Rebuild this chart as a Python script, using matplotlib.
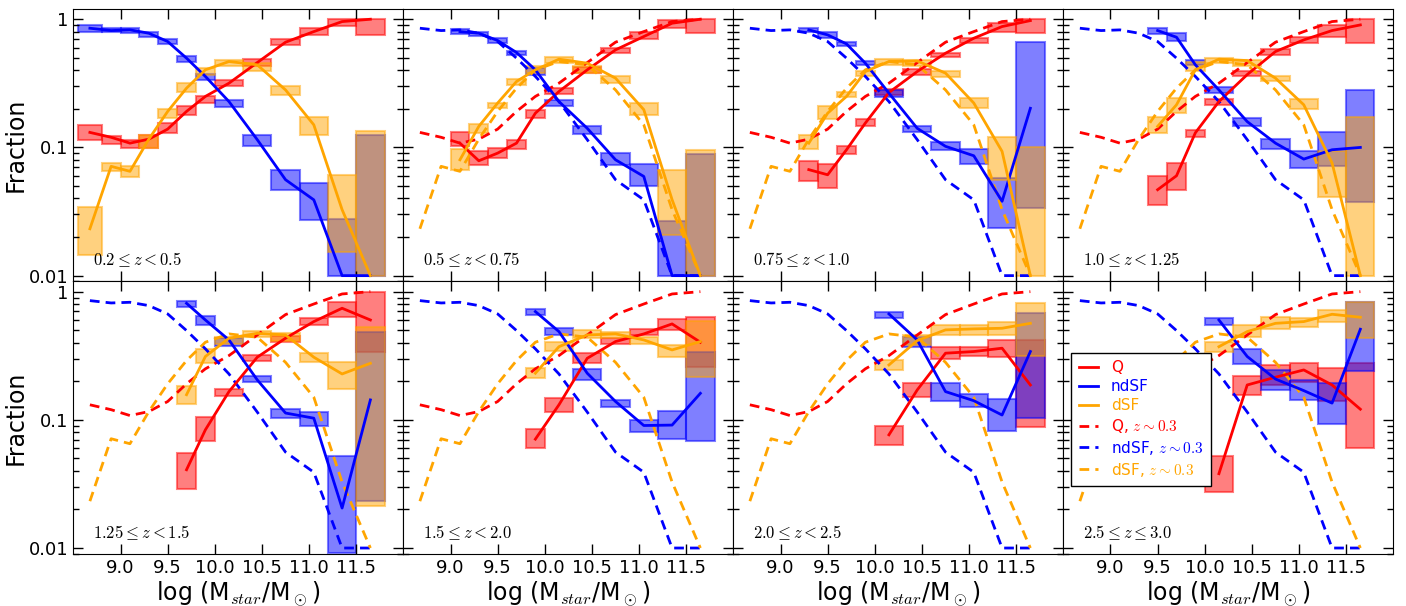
import numpy as np
import matplotlib
matplotlib.use('Agg')
import matplotlib.pyplot as plt
from matplotlib.ticker import FixedLocator, FixedFormatter, LogLocator, NullFormatter

plt.rcParams['mathtext.fontset'] = 'cm'
plt.rcParams['font.family'] = 'DejaVu Sans'

nan = np.nan

# mass bins (log M*/Msun)
edges = [8.55, 8.8, 9.0, 9.2, 9.4, 9.6, 9.8, 10.0, 10.3, 10.6, 10.9, 11.2, 11.5, 11.8]

z_labels = [r'$0.2 \leq z < 0.5$', r'$0.5 \leq z < 0.75$', r'$0.75 \leq z < 1.0$',
            r'$1.0 \leq z < 1.25$', r'$1.25 \leq z < 1.5$', r'$1.5 \leq z < 2.0$',
            r'$2.0 \leq z < 2.5$', r'$2.5 \leq z \leq 3.0$']

# quiescent fraction: median, lower, upper (one list per redshift bin)
q_med = [
    [0.131, 0.120, 0.108, 0.116, 0.139, 0.191, 0.250, 0.317, 0.459, 0.662, 0.801, 0.959, 1.0],
    [nan, nan, 0.108, 0.0787, 0.0903, 0.108, 0.185, 0.273, 0.403, 0.577, 0.733, 0.931, 1.0],
    [nan] * 3 + [0.0671, 0.0612, 0.0959, 0.155, 0.268, 0.391, 0.543, 0.711, 0.877, 0.976],
    [nan] * 4 + [0.0468, 0.0601, 0.130, 0.228, 0.370, 0.560, 0.690, 0.816, 0.903],
    [nan] * 5 + [0.0408, 0.0836, 0.166, 0.308, 0.433, 0.584, 0.742, 0.601],
    [nan] * 6 + [0.0707, 0.131, 0.302, 0.408, 0.468, 0.560, 0.403],
    [nan] * 7 + [0.0764, 0.171, 0.331, 0.341, 0.362, 0.187],
    [nan] * 7 + [0.0380, 0.187, 0.215, 0.245, 0.187, 0.121],
]
q_lo = [
    [0.115, 0.107, 0.099, 0.099, 0.130, 0.180, 0.222, 0.299, 0.433, 0.631, 0.755, 0.887, 0.755],
    [nan, nan, 0.102, 0.0733, 0.0826, 0.0971, 0.169, 0.262, 0.384, 0.550, 0.699, 0.851, 0.787],
    [nan] * 3 + [0.0543, 0.0482, 0.0893, 0.148, 0.257, 0.369, 0.506, 0.650, 0.801, 0.778],
    [nan] * 4 + [0.0357, 0.0468, 0.120, 0.215, 0.362, 0.527, 0.650, 0.733, 0.650],
    [nan] * 5 + [0.029, 0.0678, 0.154, 0.290, 0.408, 0.550, 0.639, 0.341],
    [nan] * 6 + [0.0601, 0.116, 0.276, 0.391, 0.459, 0.503, 0.260],
    [nan] * 7 + [0.0639, 0.152, 0.297, 0.315, 0.308, 0.0877],
    [nan] * 7 + [0.0272, 0.157, 0.187, 0.199, 0.139, 0.0601],
]
q_hi = [
    [0.150, 0.123, 0.115, 0.126, 0.155, 0.211, 0.254, 0.337, 0.488, 0.699, 0.851, 1.0, 1.0],
    [nan, nan, 0.133, 0.0931, 0.099, 0.115, 0.197, 0.290, 0.423, 0.601, 0.801, 0.988, 1.0],
    [nan] * 3 + [0.0787, 0.0742, 0.102, 0.167, 0.285, 0.408, 0.550, 0.720, 0.942, 1.0],
    [nan] * 4 + [0.0594, 0.0756, 0.137, 0.239, 0.398, 0.584, 0.733, 0.903, 1.0],
    [nan] * 5 + [0.055, 0.106, 0.173, 0.321, 0.451, 0.620, 0.836, 1.0],
    [nan] * 6 + [0.0846, 0.149, 0.331, 0.433, 0.509, 0.609, 0.639],
    [nan] * 7 + [0.0898, 0.195, 0.372, 0.369, 0.420, 0.420],
    [nan] * 7 + [0.0524, 0.220, 0.268, 0.280, 0.255, 0.276],
]

# non-disky star-forming fraction
nd_med = [
    [0.851, 0.816, 0.826, 0.778, 0.670, 0.497, 0.358, 0.228, 0.115, 0.056, 0.039, 0.010, 0.010],
    [nan, nan, 0.801, 0.778, 0.682, 0.550, 0.403, 0.228, 0.141, 0.0801, 0.0594, 0.010, 0.010],
    [nan] * 3 + [0.826, 0.755, 0.642, 0.454, 0.265, 0.141, 0.102, 0.0861, 0.0380, 0.202],
    [nan] * 4 + [0.816, 0.724, 0.441, 0.281, 0.159, 0.108, 0.0811, 0.0959, 0.100],
    [nan] * 5 + [0.811, 0.601, 0.420, 0.205, 0.113, 0.103, 0.0205, 0.143],
    [nan] * 6 + [0.699, 0.488, 0.231, 0.139, 0.0903, 0.0910, 0.161],
    [nan] * 7 + [0.670, 0.420, 0.166, 0.141, 0.109, 0.341],
    [nan] * 7 + [0.601, 0.312, 0.208, 0.169, 0.135, 0.509],
]
nd_lo = [
    [0.801, 0.801, 0.778, 0.733, 0.639, 0.468, 0.333, 0.206, 0.102, 0.0468, 0.0274, 0.0099, 0.0099],
    [nan, nan, 0.769, 0.742, 0.658, 0.527, 0.369, 0.211, 0.127, 0.0733, 0.0497, 0.0099, 0.0099],
    [nan] * 3 + [0.792, 0.711, 0.623, 0.441, 0.247, 0.132, 0.0947, 0.0746, 0.0235, 0.0337],
    [nan] * 4 + [0.769, 0.682, 0.441, 0.268, 0.148, 0.0976, 0.069, 0.072, 0.0375],
    [nan] * 5 + [0.755, 0.550, 0.378, 0.197, 0.103, 0.0889, 0.0091, 0.0232],
    [nan] * 6 + [0.658, 0.459, 0.205, 0.127, 0.0801, 0.0707, 0.0678],
    [nan] * 7 + [0.620, 0.369, 0.141, 0.125, 0.0811, 0.103],
    [nan] * 7 + [0.550, 0.273, 0.171, 0.143, 0.0931, 0.242],
]
nd_hi = [
    [0.903, 0.851, 0.851, 0.801, 0.699, 0.518, 0.375, 0.235, 0.126, 0.0671, 0.0528, 0.0278, 0.126],
    [nan, nan, 0.836, 0.801, 0.711, 0.570, 0.415, 0.235, 0.148, 0.0903, 0.0742, 0.0268, 0.0893],
    [nan] * 3 + [0.861, 0.792, 0.662, 0.476, 0.281, 0.148, 0.111, 0.0976, 0.0577, 0.670],
    [nan] * 4 + [0.851, 0.778, 0.482, 0.295, 0.169, 0.116, 0.0931, 0.133, 0.281],
    [nan] * 5 + [0.846, 0.650, 0.433, 0.220, 0.121, 0.116, 0.0518, 0.488],
    [nan] * 6 + [0.733, 0.524, 0.248, 0.143, 0.100, 0.118, 0.341],
    [nan] * 7 + [0.690, 0.446, 0.193, 0.159, 0.146, 0.678],
    [nan] * 7 + [0.627, 0.355, 0.245, 0.205, 0.193, 0.836],
]

# disky star-forming fraction
d_med = [
    [0.0232, 0.0712, 0.0651, 0.116, 0.191, 0.290, 0.403, 0.468, 0.441, 0.281, 0.150, 0.0327, 0.010],
    [nan, nan, 0.0801, 0.146, 0.222, 0.327, 0.403, 0.488, 0.454, 0.347, 0.197, 0.0391, 0.010],
    [nan] * 3 + [0.108, 0.185, 0.250, 0.391, 0.468, 0.473, 0.380, 0.222, 0.0931, 0.010],
    [nan] * 4 + [0.146, 0.215, 0.403, 0.488, 0.476, 0.347, 0.215, 0.0756, 0.010],
    [nan] * 5 + [0.157, 0.312, 0.433, 0.473, 0.459, 0.308, 0.228, 0.276],
    [nan] * 6 + [0.231, 0.372, 0.459, 0.468, 0.420, 0.351, 0.408],
    [nan] * 7 + [0.268, 0.415, 0.503, 0.512, 0.518, 0.566],
    [nan] * 7 + [0.372, 0.488, 0.566, 0.584, 0.666, 0.631],
]
d_lo = [
    [0.0146, 0.0651, 0.0584, 0.099, 0.169, 0.273, 0.369, 0.428, 0.398, 0.257, 0.126, 0.0153, 0.0099],
    [nan, nan, 0.0671, 0.130, 0.202, 0.308, 0.384, 0.454, 0.384, 0.321, 0.180, 0.0209, 0.0099],
    [nan] * 3 + [0.0971, 0.166, 0.247, 0.362, 0.441, 0.433, 0.353, 0.202, 0.056, 0.0099],
    [nan] * 4 + [0.130, 0.187, 0.396, 0.454, 0.435, 0.327, 0.199, 0.0408, 0.0099],
    [nan] * 5 + [0.133, 0.280, 0.391, 0.446, 0.415, 0.285, 0.173, 0.0211],
    [nan] * 6 + [0.211, 0.347, 0.433, 0.433, 0.391, 0.308, 0.216],
    [nan] * 7 + [0.244, 0.384, 0.459, 0.459, 0.459, 0.315],
    [nan] * 7 + [0.341, 0.446, 0.509, 0.534, 0.584, 0.433],
]
d_hi = [
    [0.0343, 0.0756, 0.0712, 0.126, 0.199, 0.317, 0.415, 0.482, 0.454, 0.302, 0.174, 0.0612, 0.135],
    [nan, nan, 0.0971, 0.153, 0.224, 0.343, 0.435, 0.506, 0.428, 0.362, 0.222, 0.0671, 0.0959],
    [nan] * 3 + [0.126, 0.209, 0.270, 0.398, 0.488, 0.482, 0.396, 0.242, 0.120, 0.100],
    [nan] * 4 + [0.172, 0.242, 0.468, 0.497, 0.482, 0.362, 0.238, 0.0931, 0.172],
    [nan] * 5 + [0.183, 0.355, 0.446, 0.494, 0.479, 0.335, 0.285, 0.534],
    [nan] * 6 + [0.253, 0.403, 0.503, 0.482, 0.446, 0.384, 0.594],
    [nan] * 7 + [0.294, 0.459, 0.550, 0.550, 0.584, 0.811],
    [nan] * 7 + [0.408, 0.550, 0.631, 0.620, 0.720, 0.836],
]

RED, BLUE, ORANGE = '#ff0000', '#0000ff', '#ffa500'
DASH = (0, (3.5, 2.2))

edges = np.array(edges)
xc = 0.5 * (edges[1:] + edges[:-1])
width = edges[1:] - edges[:-1]


def draw_boxes(ax, lo, hi, color):
    lo, hi = np.array(lo), np.array(hi)
    ok = np.isfinite(lo)
    ax.bar(xc[ok], hi[ok] - lo[ok], width=width[ok], bottom=lo[ok],
           color=color, alpha=0.5, edgecolor=color, linewidth=1.5, zorder=1)


fig, axes = plt.subplots(2, 4, figsize=(14.06, 6.06), dpi=100, sharex=True, sharey=True)
fig.subplots_adjust(left=0.0522, right=0.991, top=0.985, bottom=0.086, wspace=0, hspace=0)

sets = [(q_med, q_lo, q_hi, RED), (nd_med, nd_lo, nd_hi, BLUE), (d_med, d_lo, d_hi, ORANGE)]

for i, ax in enumerate(axes.flat):
    for med, lo, hi, col in sets:
        draw_boxes(ax, lo[i], hi[i], col)
    for med, lo, hi, col in sets:
        ax.plot(xc, med[i], color=col, lw=2, zorder=3)
    if i > 0:
        for med, lo, hi, col in sets:
            ax.plot(xc, med[0], color=col, lw=2, ls=DASH, zorder=2)

    ax.set_yscale('log')
    ax.set_xlim(8.5, 12.0)
    ax.set_ylim(0.009, 1.2)
    ax.xaxis.set_major_locator(FixedLocator([9.0, 9.5, 10.0, 10.5, 11.0, 11.5]))
    ax.yaxis.set_major_locator(FixedLocator([0.01, 0.1, 1.0]))
    ax.yaxis.set_major_formatter(FixedFormatter(['0.01', '0.1', '1']))
    ax.yaxis.set_minor_locator(LogLocator(base=10, subs=np.arange(2, 10)))
    ax.yaxis.set_minor_formatter(NullFormatter())
    ax.tick_params(which='both', direction='in', top=True, right=True, labelsize=13)
    ax.tick_params(which='major', length=7, width=1)
    ax.tick_params(which='minor', length=4, width=1)
    ax.text(0.06, 0.08, z_labels[i], transform=ax.transAxes, fontsize=12,
            ha='left', va='center')
    if i % 4 == 0:
        ax.set_ylabel('Fraction', fontsize=17)
        ax.yaxis.set_label_coords(-0.14, 0.5)
    if i >= 4:
        ax.set_xlabel(r'log (M$_{star}$/M$_\odot$)', fontsize=17, labelpad=2)
        ax.set_xticklabels(['9.0', '9.5', '10.0', '10.5', '11.0', '11.5'])

# legend in the last panel
ax = axes[1, 3]
handles = [
    plt.Line2D([], [], color=RED, lw=2),
    plt.Line2D([], [], color=BLUE, lw=2),
    plt.Line2D([], [], color=ORANGE, lw=2),
    plt.Line2D([], [], color=RED, lw=2, ls=DASH),
    plt.Line2D([], [], color=BLUE, lw=2, ls=DASH),
    plt.Line2D([], [], color=ORANGE, lw=2, ls=DASH),
]
labels = ['Q', 'ndSF', 'dSF', r'Q, $z\sim0.3$', r'ndSF, $z\sim0.3$', r'dSF, $z\sim0.3$']
leg = ax.legend(handles, labels, loc='upper left', bbox_to_anchor=(0.023, 0.738),
                borderaxespad=0, fontsize=11, handlelength=1.3, handletextpad=0.8,
                labelspacing=0.25, fancybox=False, framealpha=1, edgecolor='black',
                borderpad=0.5)
leg.set_zorder(5)
for txt, col in zip(leg.get_texts(), [RED, BLUE, ORANGE] * 2):
    txt.set_color(col)

fig.savefig('out.png', dpi=100)
